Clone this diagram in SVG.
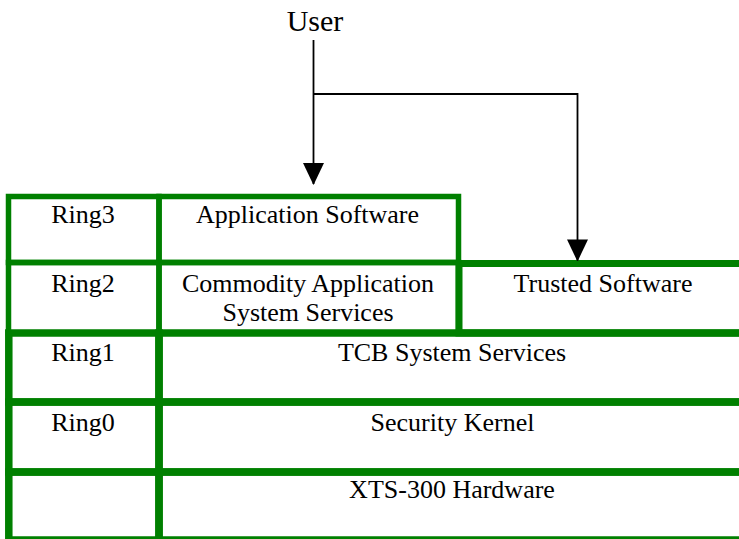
<svg xmlns="http://www.w3.org/2000/svg" width="739" height="539" viewBox="0 0 739 539">
<style>
.cell{fill:none;stroke:#008000}
.thin{stroke-width:5.5}
.thick{stroke-width:7.5}
.t{font-family:"Liberation Serif","Times New Roman",serif;font-size:26px;fill:#000;text-anchor:middle}
.con{fill:none;stroke:#000;stroke-width:1.8}
</style>
<defs>
<marker id="ah" markerUnits="userSpaceOnUse" markerWidth="22" markerHeight="22" viewBox="0 0 20 21" refX="20" refY="10" orient="auto">
<path d="M0,0 L21,10 L0,20 Z" fill="#000"/>
</marker>
</defs>
<rect width="739" height="539" fill="#fff"/>
<g id="user"><text class="t" x="315" y="31" style="font-size:30px">User</text></g>
<g id="hw-label"><rect class="cell thick" x="8.8" y="472" width="150.2" height="68"/></g>
<g id="hardware"><rect class="cell thick" x="159" y="472" width="590" height="68"/><text class="t" x="452" y="498">XTS-300 Hardware</text></g>
<g id="ring0"><rect class="cell thick" x="8.8" y="402" width="150.2" height="70"/><text class="t" x="83" y="431">Ring0</text></g>
<g id="kernel"><rect class="cell thick" x="159" y="402" width="590" height="70"/><text class="t" x="452.5" y="431">Security Kernel</text></g>
<g id="ring1"><rect class="cell thick" x="8.8" y="333" width="150.2" height="69"/><text class="t" x="83" y="361">Ring1</text></g>
<g id="tcb"><rect class="cell thick" x="159" y="333" width="590" height="69"/><text class="t" x="452" y="361">TCB System Services</text></g>
<g id="trusted"><rect class="cell" style="stroke-width:7" x="459" y="263.5" width="290" height="69.5"/><text class="t" x="603" y="292">Trusted Software</text></g>
<g id="ring2"><rect class="cell thin" x="8.5" y="262.5" width="150.5" height="70.5"/><text class="t" x="83" y="292">Ring2</text></g>
<g id="commodity"><rect class="cell thin" x="159" y="262.5" width="299.5" height="70.5"/><text class="t" x="308" y="292">Commodity Application</text><text class="t" x="308" y="321">System Services</text></g>
<g id="ring3"><rect class="cell thin" x="8.5" y="196.5" width="150.5" height="66"/><text class="t" x="83" y="223">Ring3</text></g>
<g id="app"><rect class="cell thin" x="159" y="196.5" width="299.5" height="66"/><text class="t" x="307.5" y="223">Application Software</text></g>
<g id="connectors">
<path class="con" d="M313.5,40 V184" marker-end="url(#ah)"/>
<path class="con" d="M313.5,94 H577.5 V260.5" marker-end="url(#ah)"/>
</g>
</svg>
